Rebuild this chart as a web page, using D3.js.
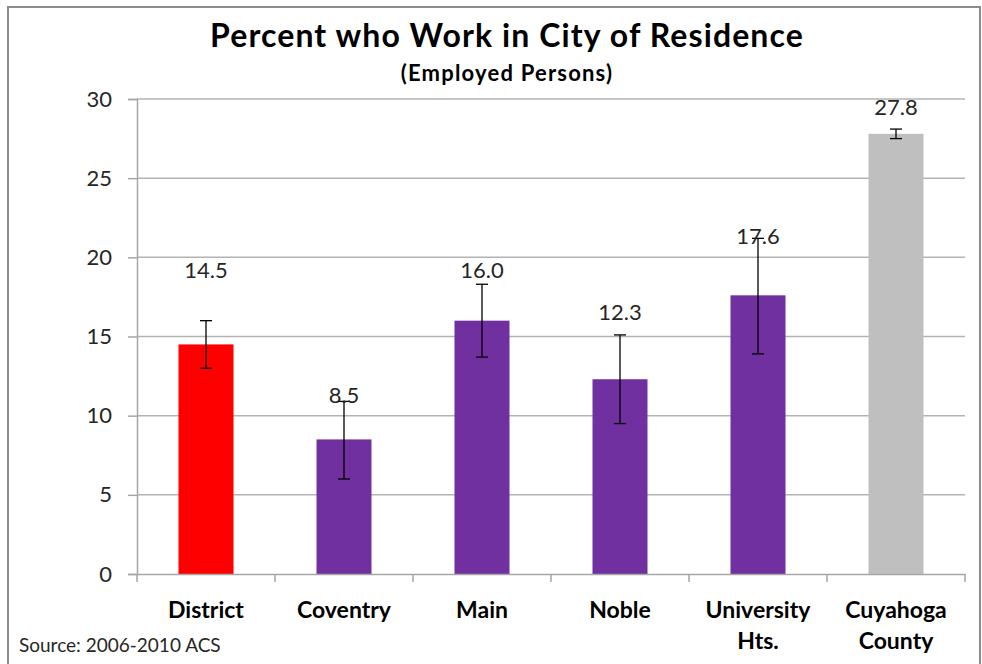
<!DOCTYPE html>
<html><head><meta charset="utf-8">
<script src="https://cdn.jsdelivr.net/npm/d3@7"></script>
<style>
html,body{margin:0;padding:0;background:#fff;}
svg{display:block;font-family:Lato,"Open Sans",sans-serif;}
</style></head>
<body>
<svg id="chart" width="982" height="664"></svg>
<script>
const categories = [["District"], ["Coventry"], ["Main"], ["Noble"], ["University", "Hts."], ["Cuyahoga", "County"]];
const values = [14.5, 8.5, 16.0, 12.3, 17.6, 27.8];
const errLow = [13.0, 6.0, 13.7, 9.5, 13.9, 27.5];
const errHigh = [16.0, 10.9, 18.3, 15.1, 21.2, 28.1];
const labelAt = [19.2, 11.3, 19.2, 16.5, 21.3, 29.5];
const barColors = ["#FF0000", "#7030A0", "#7030A0", "#7030A0", "#7030A0", "#BFBFBF"];
const yTicks = [0, 5, 10, 15, 20, 25, 30];
const titleText = "Percent who Work in City of Residence";
const subtitleText = "(Employed Persons)";
const sourceText = "Source: 2006-2010 ACS";

const svg = d3.select("#chart");
const plot = {left: 137, right: 965, top: 99, bottom: 574};

// caption remnant and frame
svg.append("text").attr("x", 0).attr("y", -3).attr("font-size", 20).attr("fill", "#000").text("Figure");
svg.append("rect").attr("x", 8).attr("y", 7).attr("width", 972).attr("height", 700)
  .attr("fill", "#fff").attr("stroke", "#8c8c8c").attr("stroke-width", 2);

const idx = d3.range(values.length);
const x = d3.scaleBand().domain(idx).range([plot.left, plot.right]).paddingInner(0).paddingOuter(0);
const y = d3.scaleLinear().domain([0, 30]).range([plot.bottom, plot.top]);
const barW = 55;

// gridlines
svg.append("g").selectAll("line").data(yTicks.filter(d => d > 0)).join("line")
  .attr("x1", plot.left).attr("x2", plot.right)
  .attr("y1", d => y(d)).attr("y2", d => y(d))
  .attr("stroke", "#b3b3b3").attr("stroke-width", 1.5);

// y axis
const yAxis = svg.append("g").attr("transform", `translate(${plot.left},0)`)
  .call(d3.axisLeft(y).tickValues(yTicks).tickSize(9).tickPadding(16).tickFormat(d3.format("d")));
yAxis.select(".domain").attr("stroke", "#a6a6a6").attr("stroke-width", 1.5);
yAxis.selectAll(".tick line").attr("stroke", "#a6a6a6").attr("stroke-width", 1.5);
yAxis.selectAll(".tick text").attr("font-size", 22).attr("fill", "#262626")
  .attr("font-family", "Lato, 'Open Sans', sans-serif");

// bars
svg.append("g").selectAll("rect").data(idx).join("rect")
  .attr("x", i => x(i) + x.bandwidth() / 2 - barW / 2)
  .attr("width", barW)
  .attr("y", i => y(values[i]))
  .attr("height", i => y(0) - y(values[i]))
  .attr("fill", i => barColors[i]);

// x axis
const xAxis = svg.append("g").attr("transform", `translate(0,${plot.bottom})`)
  .call(d3.axisBottom(x).tickSize(0).tickFormat(""));
xAxis.select(".domain").attr("stroke", "#a6a6a6").attr("stroke-width", 1.5);
const bounds = idx.map(i => x(i)).concat([plot.right]);
svg.append("g").selectAll("line").data(bounds).join("line")
  .attr("x1", d => d).attr("x2", d => d)
  .attr("y1", plot.bottom).attr("y2", plot.bottom + 8)
  .attr("stroke", "#a6a6a6").attr("stroke-width", 1.5);

// category labels
const cl = svg.append("g").selectAll("text").data(idx).join("text")
  .attr("x", i => x(i) + x.bandwidth() / 2)
  .attr("y", 618)
  .attr("text-anchor", "middle")
  .attr("font-size", 23).attr("font-weight", "bold").attr("fill", "#000");
cl.each(function(i) {
  const t = d3.select(this);
  categories[i].forEach((s, k) => {
    t.append("tspan").attr("x", x(i) + x.bandwidth() / 2).attr("dy", k === 0 ? 0 : 31).text(s);
  });
});

// error bars
const eg = svg.append("g").attr("stroke", "#000").attr("stroke-width", 1.3);
idx.forEach(i => {
  const cx = x(i) + x.bandwidth() / 2;
  eg.append("line").attr("x1", cx).attr("x2", cx).attr("y1", y(errLow[i])).attr("y2", y(errHigh[i]));
  [errLow[i], errHigh[i]].forEach(v => {
    eg.append("line").attr("x1", cx - 6).attr("x2", cx + 6).attr("y1", y(v)).attr("y2", y(v));
  });
});

// value labels
svg.append("g").selectAll("text").data(idx).join("text")
  .attr("x", i => x(i) + x.bandwidth() / 2)
  .attr("y", i => y(labelAt[i]))
  .attr("dy", "0.35em")
  .attr("text-anchor", "middle")
  .attr("font-size", 22).attr("fill", "#262626")
  .text(i => d3.format(".1f")(values[i]));

// titles
svg.append("text").attr("x", 507).attr("y", 47).attr("text-anchor", "middle")
  .attr("font-size", 32).attr("font-weight", "bold").attr("letter-spacing", 1.1)
  .attr("fill", "#000").text(titleText);
svg.append("text").attr("x", 507).attr("y", 81).attr("text-anchor", "middle")
  .attr("font-size", 22).attr("font-weight", "bold").attr("letter-spacing", 1.2)
  .attr("fill", "#000").text(subtitleText);

// source
svg.append("text").attr("x", 19).attr("y", 652)
  .attr("font-size", 19).attr("fill", "#262626").text(sourceText);
</script>
</body></html>
